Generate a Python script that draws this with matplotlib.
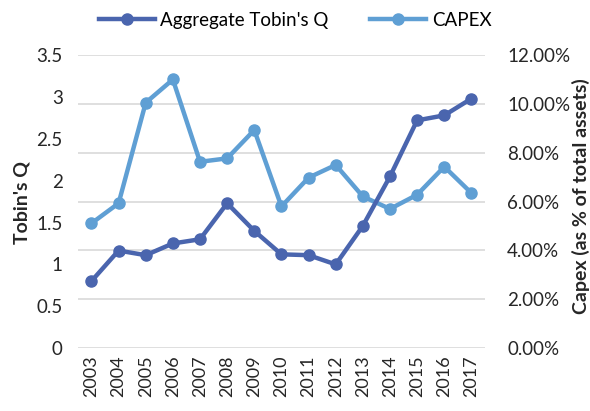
import matplotlib.pyplot as plt
from matplotlib.ticker import FuncFormatter

years = ['2003', '2004', '2005', '2006', '2007', '2008', '2009', '2010',
         '2011', '2012', '2013', '2014', '2015', '2016', '2017']
tobins_q = [0.80, 1.165, 1.11, 1.25, 1.30, 1.73, 1.40, 1.12,
            1.11, 1.00, 1.46, 2.05, 2.72, 2.78, 2.98]
capex = [5.11, 5.93, 10.05, 11.0, 7.63, 7.77, 8.93, 5.80,
         6.98, 7.50, 6.21, 5.70, 6.28, 7.43, 6.35]

dark = '#4A65AE'
light = '#5F9FD4'

plt.rcParams['font.family'] = ['Lato', 'DejaVu Sans']
plt.rcParams['font.size'] = 13

fig = plt.figure(figsize=(5.9, 4.11), dpi=100)
ax = fig.add_axes([0.132, 0.153, 0.690, 0.713])
ax2 = ax.twinx()
ax.set_zorder(ax2.get_zorder() + 1)
ax.patch.set_visible(False)

x = range(len(years))
l2, = ax2.plot(x, capex, '-o', color=light, lw=3.2, markersize=8, label='CAPEX')
l1, = ax.plot(x, tobins_q, '-o', color=dark, lw=3.2, markersize=8, label="Aggregate Tobin's Q")

ax.set_ylim(0, 3.5)
ax.set_yticks([0, 0.5, 1, 1.5, 2, 2.5, 3, 3.5])
ax.set_yticklabels(['0', '0.5', '1', '1.5', '2', '2.5', '3', '3.5'])
ax2.set_ylim(0, 12)
ax2.set_yticks(range(0, 13, 2))
ax2.yaxis.set_major_formatter(FuncFormatter(lambda v, p: f'{v:.2f}%'))
ax.set_xlim(-0.5, len(years) - 0.5)
ax.set_xticks(list(x))
ax.set_xticklabels(years, rotation=90)

ax2.grid(axis='y', color='#d9d9d9', lw=1.2)
for a in (ax, ax2):
    for s in a.spines.values():
        s.set_visible(False)
    a.tick_params(length=0, colors='#262626', labelsize=13.5)
ax.tick_params(axis='x', labelsize=13, pad=5)
ax.tick_params(axis='y', pad=11)
ax2.tick_params(axis='y', pad=16)

fig.text(0.037, 0.508, "Tobin's Q", rotation=90, ha='center', va='center',
         fontweight='bold', fontsize=14, color='#262626')
fig.text(0.985, 0.523, 'Capex (as % of total assets)', rotation=90, ha='center',
         va='center', fontweight='bold', fontsize=14, color='#262626')

fig.legend([l1, l2], ["Aggregate Tobin's Q", 'CAPEX'], loc='upper center',
           bbox_to_anchor=(0.5, 1.012), ncol=2, frameon=False, fontsize=13.5,
           handlelength=3, columnspacing=2.2, handletextpad=0.3)

fig.savefig('out.png', dpi=100)
